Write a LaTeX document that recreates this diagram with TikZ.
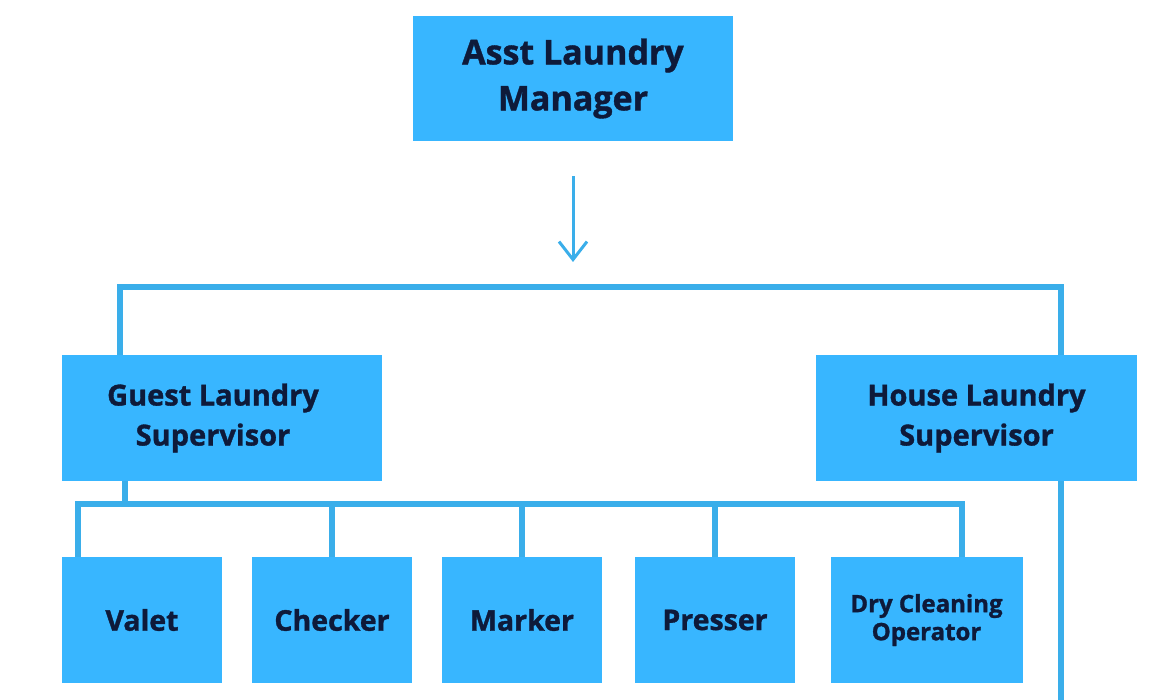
\documentclass[tikz,border=0pt]{standalone}
\usepackage{fontspec}
\setmainfont{Open Sans}[BoldFeatures={FakeBold=1.2}]
\usetikzlibrary{arrows.meta}
\definecolor{boxblue}{HTML}{38B6FF}
\definecolor{linkblue}{HTML}{3AAEEA}
\definecolor{navy}{HTML}{0E1A3A}
\tikzset{
  box/.style={rectangle, fill=boxblue, draw=none, inner sep=0pt, align=center,
    text=navy, font=\bfseries},
  link/.style={draw=linkblue, line width=5.5pt},
  arr/.style={draw=linkblue, line width=3pt,
    -{Straight Barb[length=18pt,width=28pt,line width=3pt]}}
}
\begin{document}
\begin{tikzpicture}[x=1pt, y=-1pt]
\useasboundingbox (0,0) rectangle (1170,700);
\node [box, minimum width=320pt, minimum height=125pt, font=\bfseries\fontsize{34}{46}\selectfont] (mgr) at (573,78.5) {Asst Laundry\\Manager};
\node [box, minimum width=320pt, minimum height=125pt, font=\bfseries\fontsize{29}{40}\selectfont] (guest) at (222,418) {Guest Laundry\hspace*{18pt}\\Supervisor\hspace*{18pt}};
\node [box, minimum width=321pt, minimum height=125pt, font=\bfseries\fontsize{29}{40}\selectfont] (house) at (976.5,418) {House Laundry\\Supervisor};
\node [box, minimum width=160pt, minimum height=126pt, font=\bfseries\fontsize{28.5}{34}\selectfont] (valet) at (142,620) {Valet};
\node [box, minimum width=160pt, minimum height=126pt, font=\bfseries\fontsize{28.5}{34}\selectfont] (checker) at (332,620) {Checker};
\node [box, minimum width=160pt, minimum height=126pt, font=\bfseries\fontsize{28.5}{34}\selectfont] (marker) at (522,620) {Marker};
\node [box, minimum width=160pt, minimum height=126pt, font=\bfseries\fontsize{28.5}{34}\selectfont] (presser) at (715,620) {Presser};
\node [box, minimum width=192pt, minimum height=126pt, font=\bfseries\fontsize{24}{28}\selectfont] (dry) at (926.5,620) {Dry Cleaning\\Operator};
% top bus
\coordinate (topL) at (120,287);
\coordinate (topR) at (1061,287);
\coordinate (tail) at (1061,700);
\draw [arr, shorten <=35pt, shorten >=25pt] (mgr.south) -- (mgr.south |- topL);
\draw [link] (topL |- guest.north) -- (topL) -- (topR) -- (topR |- house.north);
\draw [link] (topR |- house.south) -- (tail);
% guest laundry bus
\coordinate (subL) at (78,504);
\coordinate (subR) at (962,504);
\draw [link] ([xshift=-97pt]guest.south) -- ([xshift=-97pt]guest.south |- subL);
\draw [link] (subL |- valet.north) -- (subL) -- (subR) -- (subR |- dry.north);
\foreach \n in {checker, marker, presser}
  \draw [link] (\n.north) -- (\n.north |- subL);
\end{tikzpicture}
\end{document}
